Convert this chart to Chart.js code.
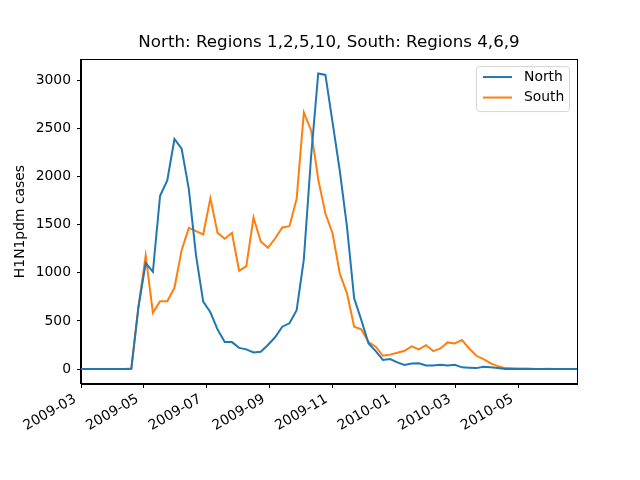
<!DOCTYPE html>
<html>
<head>
<meta charset="utf-8">
<script src="https://cdn.jsdelivr.net/npm/chart.js@4.4.1/dist/chart.umd.min.js"></script>
<style>
  html, body { margin: 0; padding: 0; background: #fff; }
  #wrap { width: 640px; height: 480px; }
</style>
</head>
<body>
<div id="wrap"><canvas id="chart-line" width="640" height="480"></canvas></div>
<script>
// weekly report dates (Sundays)
var weeks = [
  "2009-03-01", "2009-03-08", "2009-03-15", "2009-03-22", "2009-03-29",
  "2009-04-05", "2009-04-12", "2009-04-19", "2009-04-26",
  "2009-05-03", "2009-05-10", "2009-05-17", "2009-05-24", "2009-05-31",
  "2009-06-07", "2009-06-14", "2009-06-21", "2009-06-28",
  "2009-07-05", "2009-07-12", "2009-07-19", "2009-07-26",
  "2009-08-02", "2009-08-09", "2009-08-16", "2009-08-23", "2009-08-30",
  "2009-09-06", "2009-09-13", "2009-09-20", "2009-09-27",
  "2009-10-04", "2009-10-11", "2009-10-18", "2009-10-25",
  "2009-11-01", "2009-11-08", "2009-11-15", "2009-11-22", "2009-11-29",
  "2009-12-06", "2009-12-13", "2009-12-20", "2009-12-27",
  "2010-01-03", "2010-01-10", "2010-01-17", "2010-01-24", "2010-01-31",
  "2010-02-07", "2010-02-14", "2010-02-21", "2010-02-28",
  "2010-03-07", "2010-03-14", "2010-03-21", "2010-03-28",
  "2010-04-04", "2010-04-11", "2010-04-18", "2010-04-25",
  "2010-05-02", "2010-05-09", "2010-05-16", "2010-05-23", "2010-05-30",
  "2010-06-06", "2010-06-13", "2010-06-20", "2010-06-27"
];

var north = [
  0, 0, 0, 0, 0, 0, 1, 3, 650,
  1100, 1010, 1800, 1960, 2390,
  2290, 1870, 1180, 700,
  590, 410, 280, 280,
  220, 205, 172, 180, 250,
  330, 440, 475, 612,
  1140, 2200, 3070, 3055,
  2560, 2060, 1480, 734, 508,
  266, 187, 95, 104,
  70, 42, 58, 60, 38,
  36, 45, 36, 45,
  18, 15, 10, 24,
  18, 10, 2, 1,
  0, 2, 1, 0, 0,
  1, 0, 0, 0
];

var south = [
  0, 0, 0, 0, 0, 0, 2, 5, 650,
  1180, 585, 705, 705, 844,
  1235, 1467, 1433, 1398,
  1775, 1415, 1353, 1415,
  1021, 1069, 1575, 1325, 1260,
  1356, 1471, 1484, 1770,
  2665, 2481, 1970, 1616,
  1408, 993, 786, 440, 412,
  280, 232, 138, 150,
  170, 190, 235, 204, 249,
  187, 214, 277, 266,
  301, 214, 138, 104,
  59, 31, 10, 8,
  5, 6, 3, 2, 4,
  2, 1, 2, 1
];

var tickMonths = ["2009-03", "2009-05", "2009-07", "2009-09", "2009-11", "2010-01", "2010-03", "2010-05"];
var yTicks = [0, 500, 1000, 1500, 2000, 2500, 3000];

var FONT = "'DejaVu Sans', sans-serif";

// days since 2009-03-01
function dayNo(s) {
  var p = s.split("-");
  var d = Date.UTC(+p[0], +p[1] - 1, p[2] ? +p[2] : 1);
  return (d - Date.UTC(2009, 2, 1)) / 86400000;
}

function toPoints(vals) {
  return weeks.map(function (w, i) {
    return { x: dayNo(w), y: vals[i] };
  });
}

// black box round the plot area
var frame = {
  id: "frame",
  afterDraw: function (chart) {
    var a = chart.chartArea;
    var ctx = chart.ctx;
    ctx.save();
    ctx.strokeStyle = "#000";
    ctx.lineWidth = 1;
    ctx.strokeRect(Math.round(a.left) - 0.5, Math.round(a.top) + 0.5,
      Math.round(a.right - a.left) + 1, Math.round(a.bottom - a.top) - 1);
    ctx.restore();
  }
};

// matplotlib style legend box, upper right
var boxLegend = {
  id: "boxLegend",
  afterDatasetsDraw: function (chart) {
    var a = chart.chartArea;
    var ctx = chart.ctx;
    var w = 93, h = 45;
    var x = a.right - 8 - w, y = a.top + 7;
    ctx.save();
    ctx.beginPath();
    ctx.roundRect(x + 0.5, y + 0.5, w, h, 3);
    ctx.fillStyle = "rgba(255,255,255,0.8)";
    ctx.fill();
    ctx.strokeStyle = "rgba(204,204,204,0.8)";
    ctx.lineWidth = 1;
    ctx.stroke();
    ctx.font = "13.9px " + FONT;
    ctx.textBaseline = "middle";
    ctx.fillStyle = "#000";
    chart.data.datasets.forEach(function (ds, i) {
      var ly = y + 11 + i * 20.5;
      ctx.beginPath();
      ctx.moveTo(x + 7, ly);
      ctx.lineTo(x + 36, ly);
      ctx.strokeStyle = ds.borderColor;
      ctx.lineWidth = 2;
      ctx.stroke();
      ctx.fillText(ds.label, x + 48, ly);
    });
    ctx.restore();
  }
};

var ctx = document.getElementById("chart-line").getContext("2d");
new Chart(ctx, {
  type: "line",
  data: {
    datasets: [
      {
        label: "North",
        data: toPoints(north),
        borderColor: "#1f77b4",
        backgroundColor: "#1f77b4",
        borderWidth: 2,
        pointRadius: 0,
        tension: 0,
        fill: false,
      },
      {
        label: "South",
        data: toPoints(south),
        borderColor: "#ff7f0e",
        backgroundColor: "#ff7f0e",
        borderWidth: 2,
        pointRadius: 0,
        tension: 0,
        fill: false,
      },
    ],
  },
  options: {
    responsive: false,
    animation: false,
    devicePixelRatio: 1,
    layout: { padding: { left: 0, right: 63, top: 0, bottom: 0 } },
    plugins: {
      legend: { display: false },
      tooltip: { enabled: false },
      title: {
        display: true,
        fullSize: false,
        text: "North: Regions 1,2,5,10, South: Regions 4,6,9",
        color: "#000",
        font: { size: 16.7, family: FONT, weight: "normal", lineHeight: 1.2 },
        padding: { top: 33, bottom: 6 },
      },
    },
    scales: {
      x: {
        type: "linear",
        min: 0,
        max: dayNo(weeks[weeks.length - 1]),
        afterBuildTicks: function (scale) {
          scale.ticks = tickMonths.map(function (m) {
            return { value: dayNo(m) };
          });
        },
        afterFit: function (scale) {
          scale.height = 96;
        },
        border: { display: true, color: "#000", width: 1 },
        grid: {
          display: true,
          drawOnChartArea: false,
          drawTicks: true,
          tickLength: 4,
          color: "#000",
        },
        ticks: {
          autoSkip: false,
          minRotation: 30,
          maxRotation: 30,
          padding: 3,
          labelOffset: -6,
          color: "#000",
          font: { size: 13.9, family: FONT },
          callback: function (value) {
            for (var i = 0; i < tickMonths.length; i++) {
              if (dayNo(tickMonths[i]) === value) return tickMonths[i];
            }
            return "";
          },
        },
      },
      y: {
        min: -155,
        max: 3220,
        afterBuildTicks: function (scale) {
          scale.ticks = yTicks.map(function (v) {
            return { value: v };
          });
        },
        afterFit: function (scale) {
          scale.width = 81;
        },
        border: { display: true, color: "#000", width: 1 },
        grid: {
          display: true,
          drawOnChartArea: false,
          drawTicks: true,
          tickLength: 4,
          color: "#000",
        },
        ticks: {
          padding: 6,
          color: "#000",
          font: { size: 13.9, family: FONT },
          callback: function (value) {
            return String(value);
          },
        },
        title: {
          display: true,
          text: "H1N1pdm cases",
          color: "#000",
          font: { size: 13.9, family: FONT },
          padding: { top: 12, bottom: 0 },
        },
      },
    },
  },
  plugins: [frame, boxLegend],
});
</script>
</body>
</html>
